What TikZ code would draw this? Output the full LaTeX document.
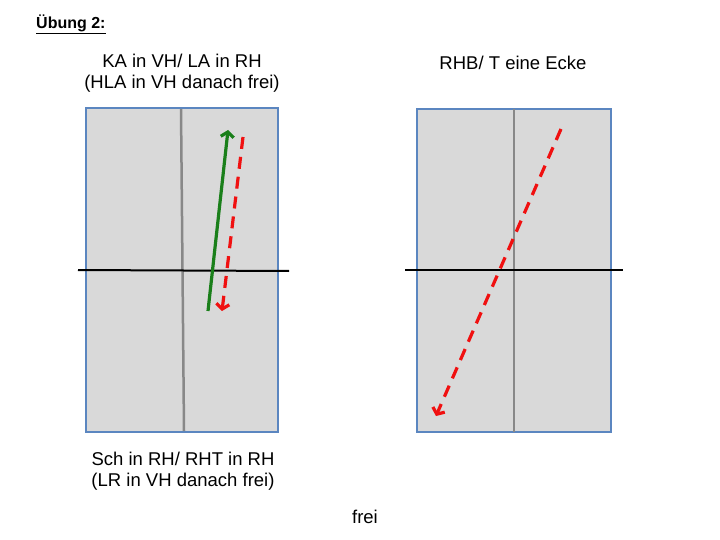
\documentclass[tikz,border=0pt]{standalone}
\usepackage{fontspec}
\setmainfont{Liberation Sans}
\usetikzlibrary{arrows.meta}
\definecolor{boxfill}{HTML}{D9D9D9}
\definecolor{boxedge}{HTML}{5B86C0}
\definecolor{divgray}{HTML}{888888}
\definecolor{arrgreen}{HTML}{1A7F1A}
\definecolor{arrred}{HTML}{F01010}
\tikzset{
  panel/.style={fill=boxfill, draw=boxedge, line width=2pt},
  divider/.style={draw=divgray, line width=2.5pt},
  axisline/.style={draw=black, line width=2pt},
  greenarrow/.style={draw=arrgreen, line width=3.2pt, -{Straight Barb[length=5pt,width=13pt]}},
  redarrow/.style={draw=arrred, line width=3.2pt, dash pattern=on 12pt off 8pt, -{Straight Barb[length=5pt,width=13pt]}},
  lbl/.style={font=\fontsize{18.5}{21}\selectfont, align=center, inner sep=0pt},
}
\begin{document}
\begin{tikzpicture}[x=1pt,y=-1pt]
\useasboundingbox (0,0) rectangle (720,540);
\node[anchor=west, inner sep=0pt, font=\bfseries\fontsize{16}{18}\selectfont] (title) at (36,24) {\underline{Übung 2:}};
\node[lbl] (ltop) at (182,73.5) {KA in VH/ LA in RH\\(HLA in VH danach frei)};
\node[lbl] (rtop) at (513,63) {RHB/ T eine Ecke};
\node[lbl] (lbot) at (183,471) {Sch in RH/ RHT in RH\\(LR in VH danach frei)};
\node[lbl] (frei) at (365,517) {frei};
% left panel
\draw[panel] (86,108) rectangle (278,432);
\coordinate (ld1) at (181,109);
\coordinate (ld2) at (184,431);
\draw[divider] (ld1) -- (ld2);
\coordinate (lh1) at (78,270);
\coordinate (lh2) at (289,271);
\draw[axisline] (lh1) -- (lh2);
\coordinate (g1) at (208,311);
\coordinate (g2) at (228,130);
\draw[greenarrow] (g1) -- (g2);
\coordinate (r1) at (243,137);
\coordinate (r2) at (222,311);
\draw[redarrow] (r1) -- (r2);
% right panel
\draw[panel] (417,109) rectangle (611,432);
\coordinate (rd1) at (514,109);
\coordinate (rd2) at (514,432);
\draw[divider] (rd1) -- (rd2);
\coordinate (rh1) at (405,270);
\coordinate (rh2) at (623,270);
\draw[axisline] (rh1) -- (rh2);
\coordinate (s1) at (561,129);
\coordinate (s2) at (436,416);
\draw[redarrow] (s1) -- (s2);
\end{tikzpicture}
\end{document}
